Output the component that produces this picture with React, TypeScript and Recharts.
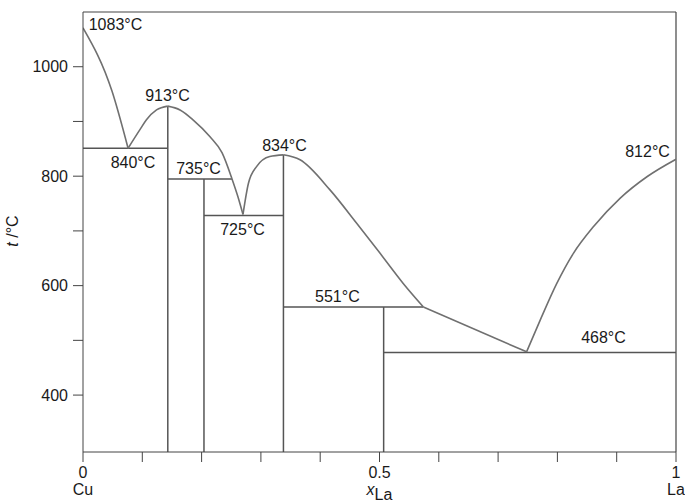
import React from 'react';
import { ComposedChart, Line, XAxis, YAxis, ReferenceLine, ReferenceDot } from 'recharts';

// liquidus branches (x = mole fraction La, t = °C)
const liqCu = [
  { x: 0, t: 1071 },
  { x: 0.049, t: 955 },
  { x: 0.076, t: 851 },
];
const liqLaCu6a = [
  { x: 0.076, t: 851 },
  { x: 0.096, t: 885 },
  { x: 0.107, t: 903 },
  { x: 0.124, t: 921 },
  { x: 0.143, t: 928 },
];
const liqLaCu6b = [
  { x: 0.143, t: 928 },
  { x: 0.1636, t: 921 },
  { x: 0.1855, t: 903 },
  { x: 0.2142, t: 872 },
  { x: 0.2344, t: 843 },
  { x: 0.2513, t: 795 },
  { x: 0.2614, t: 762 },
  { x: 0.2698, t: 730 },
];
const liqLaCu2a = [
  { x: 0.2698, t: 730 },
  { x: 0.279, t: 787 },
  { x: 0.293, t: 818 },
  { x: 0.315, t: 836 },
  { x: 0.338, t: 839 },
];
const liqLaCu2b = [
  { x: 0.338, t: 839 },
  { x: 0.366, t: 830 },
  { x: 0.4165, t: 775 },
  { x: 0.4615, t: 714 },
  { x: 0.501, t: 659 },
  { x: 0.54, t: 604 },
  { x: 0.574, t: 561 },
];
const liqLaCu = [
  { x: 0.574, t: 561 },
  { x: 0.748, t: 479 },
];
const liqLa = [
  { x: 0.748, t: 479 },
  { x: 0.771, t: 537 },
  { x: 0.799, t: 604 },
  { x: 0.827, t: 659 },
  { x: 0.861, t: 708 },
  { x: 0.906, t: 760 },
  { x: 0.951, t: 799 },
  { x: 1, t: 831 },
];

// invariant (horizontal) lines: [x from, x to, t]
const tieLines = [
  [0, 0.143, 851],
  [0.143, 0.2513, 795],
  [0.204, 0.338, 728],
  [0.338, 0.574, 561],
  [0.507, 1, 478],
];

// compounds (vertical lines): [x, t top]
const compounds = [
  [0.143, 928],
  [0.204, 795],
  [0.338, 839],
  [0.507, 561],
];

const tempLabels = [
  { x: 0.0548, t: 1078, text: '1083°C' },
  { x: 0.1425, t: 948, text: '913°C' },
  { x: 0.0843, t: 825, text: '840°C' },
  { x: 0.1948, t: 814, text: '735°C' },
  { x: 0.269, t: 703, text: '725°C' },
  { x: 0.3398, t: 857, text: '834°C' },
  { x: 0.429, t: 581, text: '551°C' },
  { x: 0.8777, t: 506, text: '468°C' },
  { x: 0.952, t: 846, text: '812°C' },
];

const xTicks = [0, 0.1, 0.2, 0.3, 0.4, 0.5, 0.6, 0.7, 0.8, 0.9, 1];
const yTicks = [400, 500, 600, 700, 800, 900, 1000];
const T_MIN = 296;
const T_MAX = 1100;

const FONT = '"Liberation Sans", Arial, sans-serif';
const TEXT = '#1a1a1a';
const CURVE = '#707070';
const LINE = '#555';

const XTick = (props: any) => {
  const { x, y, payload } = props;
  const v = payload.value;
  let top = '';
  let bottom: React.ReactNode = null;
  if (v === 0) { top = '0'; bottom = 'Cu'; }
  else if (v === 0.5) {
    top = '0.5';
    bottom = (
      <>
        <tspan fontStyle="italic">x</tspan>
        <tspan dy={5}>La</tspan>
      </>
    );
  }
  else if (v === 1) { top = '1'; bottom = 'La'; }
  if (!top) return null;
  return (
    <g fontFamily={FONT} fontSize={16} fill={TEXT}>
      <text x={x} y={y + 15} textAnchor="middle">{top}</text>
      <text x={x} y={y + 32} textAnchor="middle">{bottom}</text>
    </g>
  );
};

const YLabel = () => (
  <text
    x={18}
    y={231}
    transform="rotate(-90 18 231)"
    textAnchor="middle"
    fontFamily={FONT}
    fontSize={16}
    fill={TEXT}
  >
    <tspan fontStyle="italic">t</tspan> /°C
  </text>
);

const branches = [liqCu, liqLaCu6a, liqLaCu6b, liqLaCu2a, liqLaCu2b, liqLaCu, liqLa];

export default function App() {
  return (
    <div style={{ position: 'absolute', left: 0, top: 0, background: '#fff' }}>
      <ComposedChart
        width={685}
        height={503}
        margin={{ top: 12, right: 9, left: 23, bottom: 21 }}
      >
        <XAxis
          type="number"
          dataKey="x"
          domain={[0, 1]}
          ticks={xTicks}
          tickSize={10}
          tickMargin={1}
          tick={<XTick />}
          height={30}
          stroke="#444"
          interval={0}
          allowDataOverflow
        />
        <YAxis
          type="number"
          dataKey="t"
          domain={[T_MIN, T_MAX]}
          ticks={yTicks}
          tickSize={10}
          tickMargin={5}
          width={60}
          stroke="#444"
          interval={0}
          allowDataOverflow
          tickFormatter={(v: number) => (v % 200 === 0 ? String(v) : '')}
          tick={{ fill: TEXT, fontSize: 16, fontFamily: FONT }}
          label={<YLabel />}
        />
        <ReferenceLine y={T_MAX} stroke="#444" strokeWidth={1.2} />
        <ReferenceLine x={1} stroke="#444" strokeWidth={1.2} />
        {tieLines.map(([a, b, t], i) => (
          <ReferenceLine
            key={'h' + i}
            segment={[{ x: a, y: t }, { x: b, y: t }]}
            stroke={LINE}
            strokeWidth={1.5}
          />
        ))}
        {compounds.map(([x, t], i) => (
          <ReferenceLine
            key={'v' + i}
            segment={[{ x, y: T_MIN }, { x, y: t }]}
            stroke={LINE}
            strokeWidth={1.5}
          />
        ))}
        {branches.map((d, i) => (
          <Line
            key={'l' + i}
            data={d}
            dataKey="t"
            type="monotone"
            stroke={CURVE}
            strokeWidth={1.6}
            dot={false}
            activeDot={false}
            isAnimationActive={false}
          />
        ))}
        {tempLabels.map((l, i) => (
          <ReferenceDot
            key={'t' + i}
            x={l.x}
            y={l.t}
            r={0.5}
            fillOpacity={0}
            stroke="none"
            label={{ value: l.text, position: 'center', fill: TEXT, fontSize: 16, fontFamily: FONT }}
          />
        ))}
      </ComposedChart>
    </div>
  );
}
